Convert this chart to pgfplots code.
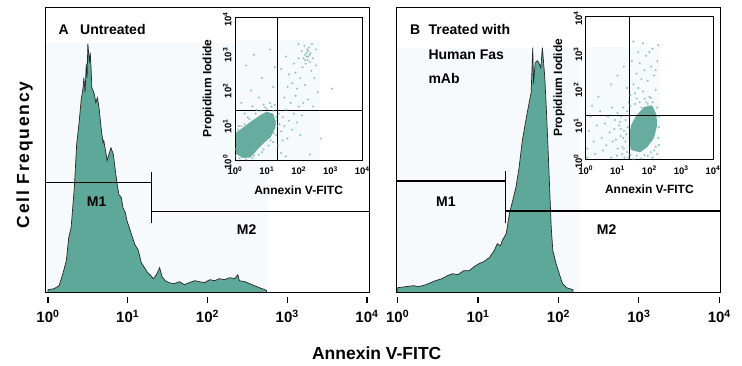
\documentclass[border=0pt]{standalone}
\usepackage{fontspec}
\setmainfont{Liberation Sans}
\usepackage{pgfplots}
\pgfplotsset{compat=1.18}
\definecolor{histfill}{RGB}{94,168,154}
\definecolor{dotcol}{RGB}{104,172,160}
\definecolor{faint}{RGB}{247,250,253}
\tikzset{
 mline/.style={black, line width=1.1pt},
 mlab/.style={font=\fontsize{14}{14}\selectfont\bfseries}
}

\begin{document}
\begin{tikzpicture}
\useasboundingbox (0,0) rectangle (742pt,366pt);
\pgfplotsset{
 mainax/.style={scale only axis, width=323.3pt, height=285.4pt, anchor=south west,
   ymin=0, ymax=285.4, ytick=\empty, xtick={0,1,2,3,4},
   xticklabels={10\textsuperscript{0},10\textsuperscript{1},10\textsuperscript{2},10\textsuperscript{3},10\textsuperscript{4}},
   xtick pos=bottom, tick align=outside, major tick length=6pt,
   xtick style={line width=1.2pt, black, yshift=-4pt},
   xticklabel style={font=\fontsize{15}{15}\selectfont\bfseries, yshift=-8pt},
   axis line style={line width=1pt}, axis on top},
 inset/.style={scale only axis, width=127.3pt, height=142.7pt, anchor=south west,
   xmin=0, xmax=4, ymin=0, ymax=4, xtick={0,1,2,3,4}, ytick={0,1,2,3,4},
   xticklabels={10\textsuperscript{0},10\textsuperscript{1},10\textsuperscript{2},10\textsuperscript{3},10\textsuperscript{4}},
   yticklabels={10\textsuperscript{0},10\textsuperscript{1},10\textsuperscript{2},10\textsuperscript{3},10\textsuperscript{4}},
   major tick length=0pt,
   tick label style={font=\fontsize{9.5}{9.5}\selectfont\bfseries},
   xticklabel style={yshift=-3pt},
   yticklabel style={rotate=90, anchor=south, xshift=-2pt},
   axis background/.style={fill=white}, axis line style={line width=0.8pt},
   xlabel={Annexin V-FITC}, ylabel={Propidium Iodide},
   label style={font=\fontsize{12}{12}\selectfont\bfseries},
   xlabel style={at={(axis description cs:0.5,-0.21)}, anchor=center},
   ylabel style={at={(axis description cs:-0.21,0.5)}, anchor=center},
   axis on top},
 dots/.style={only marks, mark=*, mark size=0.85pt, color=dotcol, opacity=0.55, mark options={draw=none, fill=dotcol}}
}

% ---------------- Panel A ----------------
\begin{axis}[mainax, at={(46pt,73.3pt)}, xmin=-0.025, xmax=4.029]
\addplot[fill=faint, draw=none] coordinates {(-0.03,0) (2.76,0) (2.76,250) (-0.03,250)} -- cycle;
\addplot[fill=histfill, draw=black!85, line width=0.7pt] coordinates {
(0,3)(0.075,4)(0.14,7)(0.19,20)(0.23,32)(0.26,55)(0.29,65)(0.33,105)(0.36,149)(0.39,170)
(0.415,192)(0.44,205)(0.45,215)(0.465,200)(0.48,229)(0.49,215)(0.50,249)(0.52,230)(0.53,240)
(0.54,225)(0.55,205)(0.58,199)(0.60,190)(0.62,195)(0.64,185)(0.67,162)(0.69,150)(0.70,152)
(0.73,138)(0.74,132)(0.77,140)(0.79,145)(0.82,138)(0.84,125)(0.87,107)(0.89,98)(0.92,95)
(0.94,85)(0.97,80)(0.99,72)(1.02,65)(1.06,55)(1.09,48)(1.13,43)(1.17,30)(1.21,25)(1.25,20)
(1.28,18)(1.32,14)(1.36,18)(1.40,25)(1.43,16)(1.47,12)(1.52,10)(1.58,9)(1.65,11)(1.71,8)
(1.77,10)(1.84,12)(1.90,11)(1.96,10)(2.03,13)(2.09,12)(2.15,14)(2.21,13)(2.28,15)(2.34,14)
(2.38,18)(2.40,12)(2.47,11)(2.53,9)(2.59,7)(2.65,5)(2.72,3)(2.74,2)} \closedcycle;
\addplot[mline] coordinates {(-0.03,110.4) (1.30,110.4)};
\addplot[mline] coordinates {(1.30,69.4) (1.30,121)};
\addplot[mline] coordinates {(1.30,81) (4.03,81)};
\node[mlab] at (axis cs:0.61,91) {M1};
\node[mlab] at (axis cs:2.49,62.7) {M2};
\end{axis}

% ---------------- Panel B ----------------
\begin{axis}[mainax, at={(396.7pt,73.3pt)}, xmin=-0.012, xmax=4.009]
\addplot[fill=faint, draw=none] coordinates {(-0.02,0) (2.27,0) (2.27,245) (-0.02,245)} -- cycle;
\addplot[fill=histfill, draw=black!85, line width=0.7pt] coordinates {
(0,5)(0.1,6)(0.2,7)(0.26,6)(0.35,8)(0.47,12)(0.55,14)(0.62,17)(0.68,19)(0.75,18)(0.82,22)
(0.89,22)(0.95,26)(1.01,29)(1.07,31)(1.14,35)(1.2,42)(1.24,49)(1.28,47)(1.30,52)(1.35,59)
(1.39,79)(1.43,92)(1.47,105)(1.51,125)(1.55,152)(1.60,175)(1.64,192)(1.66,200)(1.68,245)
(1.69,209)(1.71,230)(1.74,232)(1.76,229)(1.78,225)(1.80,245)(1.81,235)(1.83,215)(1.85,182)
(1.87,145)(1.89,105)(1.91,65)(1.93,42)(1.97,29)(2.01,19)(2.05,9)(2.10,5)(2.18,3)} \closedcycle;
\addplot[mline] coordinates {(-0.02,111.7) (1.344,111.7)};
\addplot[mline] coordinates {(1.344,70) (1.344,121.7)};
\addplot[mline] coordinates {(1.344,81.7) (4.02,81.7)};
\node[mlab] at (axis cs:0.6,91) {M1};
\node[mlab] at (axis cs:2.6,62.7) {M2};
\end{axis}

% ---------------- Inset A ----------------
\begin{axis}[inset, at={(235pt,206pt)}]
\addplot[fill=faint, draw=none] coordinates {(0,0) (2.68,0) (2.68,3.36) (0,3.36)} -- cycle;
\addplot[dots] coordinates {
(0.02,0.3)(0.05,0.5)(0.1,0.85)(0.2,0.95)(0.3,1.0)(0.45,1.15)(0.65,1.3)(0.8,1.38)(1.0,1.42)
(1.2,1.38)(1.3,1.2)(1.33,0.95)(1.3,0.7)(1.2,0.5)(1.05,0.4)(0.9,0.3)(0.75,0.15)(0.55,0.05)
(0.35,0.02)(0.15,0.05)(1.4,1.0)(1.45,0.8)(1.5,1.2)(1.55,0.95)(1.6,1.4)(1.65,0.6)(1.7,1.1)
(1.75,1.6)(1.8,0.85)(1.85,1.3)(1.9,1.8)(1.95,1.05)(2.0,1.5)(2.05,0.7)(2.1,1.25)(1.35,0.4)
(1.45,0.2)(1.6,0.1)(1.25,1.55)(1.1,1.6)(0.9,1.55)(0.55,1.5)(0.3,1.3)(2.35,0.15)(2.7,0.6)
(1.5,0.55)(1.55,1.75)(1.65,2.05)(1.7,2.4)(1.8,2.15)(1.85,2.7)(1.9,2.45)(1.95,2.0)(2.0,2.85)
(2.05,2.3)(2.1,3.05)(2.12,2.6)(2.15,2.85)(2.18,3.2)(2.2,2.95)(2.22,2.7)(2.25,3.0)(2.27,3.1)
(2.28,2.8)(2.3,2.9)(2.32,3.15)(2.35,2.75)(2.37,3.0)(2.4,2.5)(2.42,3.25)(2.45,2.85)(2.5,2.3)
(2.55,2.65)(2.6,1.9)(2.3,1.7)(2.2,2.1)(2.45,1.5)(2.15,1.6)(1.6,2.9)(1.45,2.55)(2.0,3.25)
(2.55,3.1)(0.35,2.65)(0.6,2.95)(0.85,2.3)(1.1,3.1)(0.5,1.95)(1.2,2.05)(0.2,1.6)(0.75,1.75)
(3.05,2.0)(1.25,2.6)(1.28,1.1)(1.22,0.75)(1.12,0.55)(0.95,1.48)(0.68,1.4)(0.4,1.2)(0.12,0.95)
(0.02,0.1)(0.6,0.12)(0.85,0.22)(1.38,1.3)(1.15,1.5)(2.25,2.9)(2.3,3.05)(2.2,2.8)(2.35,2.95)};
\addplot[fill=dotcol, draw=dotcol, line width=1.5pt] coordinates {
(0.05,0.19)(0.25,0.08)(0.47,0.09)(0.68,0.3)(0.9,0.5)(1.10,0.65)(1.24,0.9)(1.26,1.05)
(1.18,1.28)(1.0,1.33)(0.84,1.26)(0.53,1.07)(0.26,0.89)(0.05,0.75)} -- cycle;
\addplot[black, line width=0.7pt] coordinates {(1.33,0) (1.33,4)};
\addplot[black, line width=0.7pt] coordinates {(0,1.38) (4,1.38)};
\end{axis}

% ---------------- Inset B ----------------
\begin{axis}[inset, at={(585.7pt,206.7pt)}]
\addplot[fill=faint, draw=none] coordinates {(0,0) (2.33,0) (2.33,3.16) (0,3.16)} -- cycle;
\addplot[dots] coordinates {
(1.3,0.2)(1.25,0.5)(1.2,0.8)(1.25,1.1)(1.3,1.35)(1.4,1.5)(1.55,1.55)(1.7,1.6)(1.9,1.6)
(2.1,1.6)(2.25,1.45)(2.3,1.2)(2.3,0.9)(2.28,0.6)(2.2,0.35)(2.05,0.2)(1.85,0.12)(1.6,0.1)
(1.4,0.12)(1.15,0.35)(1.1,0.65)(1.05,0.95)(1.12,1.2)(1.0,0.3)(0.95,0.55)(0.9,0.85)(0.92,1.1)
(1.0,1.3)(1.18,1.45)(1.35,0.05)(1.75,0.02)(2.1,0.05)(2.25,0.15)(0.05,0.3)(0.1,0.8)(0.15,1.2)
(0.25,0.5)(0.3,0.15)(0.35,0.95)(0.45,1.35)(0.5,0.6)(0.55,0.25)(0.6,1.0)(0.65,0.4)(0.7,1.2)
(0.75,0.75)(0.8,0.05)(0.82,1.45)(0.85,0.5)(0.2,1.5)(0.4,1.75)(0.05,0.05)(1.4,1.8)(1.5,2.1)
(1.55,1.85)(1.6,2.4)(1.65,2.0)(1.7,2.7)(1.75,2.25)(1.8,1.9)(1.85,2.5)(1.9,2.9)(1.95,2.2)
(2.0,1.75)(2.05,2.6)(2.1,3.1)(2.15,2.35)(2.2,1.95)(2.25,2.75)(2.28,3.2)(1.65,3.0)(1.5,3.3)
(1.8,3.25)(2.0,3.0)(1.3,2.0)(1.2,2.6)(1.0,2.35)(0.8,2.1)(1.45,2.75)(2.2,2.5)(1.95,1.55)
(1.75,1.45)(1.15,0.15)(0.98,0.1)(1.08,1.05)(1.2,0.3)(1.28,0.7)(1.35,1.6)(1.6,1.7)(1.85,1.7)
(2.05,1.72)(1.32,0.9)(1.22,0.05)(1.5,0.0)(1.95,0.1)(2.15,0.25)(2.3,0.4)(1.1,0.85)(1.18,0.6)};
\addplot[fill=dotcol, draw=dotcol, line width=1.5pt] coordinates {
(1.44,0.28)(1.7,0.22)(1.91,0.35)(2.12,0.6)(2.22,0.95)(2.2,1.25)(2.07,1.49)(1.85,1.45)
(1.6,1.2)(1.45,0.95)(1.38,0.6)} -- cycle;
\addplot[black, line width=0.7pt] coordinates {(1.36,0) (1.36,4)};
\addplot[black, line width=0.7pt] coordinates {(0,1.24) (4,1.24)};
\end{axis}

% ---------------- Texts ----------------
\node[anchor=west, font=\fontsize{14}{14}\selectfont\bfseries] at (55pt,336pt) {A};
\node[anchor=west, font=\fontsize{14}{14}\selectfont\bfseries] at (76.7pt,336pt) {Untreated};
\node[anchor=west, font=\fontsize{14}{14}\selectfont\bfseries] at (406.7pt,336pt) {B};
\node[anchor=west, font=\fontsize{14}{14}\selectfont\bfseries] at (425pt,336pt) {Treated with};
\node[anchor=west, font=\fontsize{14}{14}\selectfont\bfseries] at (425pt,311pt) {Human Fas};
\node[anchor=west, font=\fontsize{14}{14}\selectfont\bfseries] at (425pt,287pt) {mAb};
\node[font=\fontsize{17.5}{17.5}\selectfont\bfseries] at (376.7pt,13pt) {Annexin V-FITC};
\node[rotate=90, font=\fontsize{17.5}{17.5}\selectfont\bfseries\addfontfeatures{LetterSpace=10}] at (24.5pt,211pt) {Cell Frequency};
\end{tikzpicture}
\end{document}
